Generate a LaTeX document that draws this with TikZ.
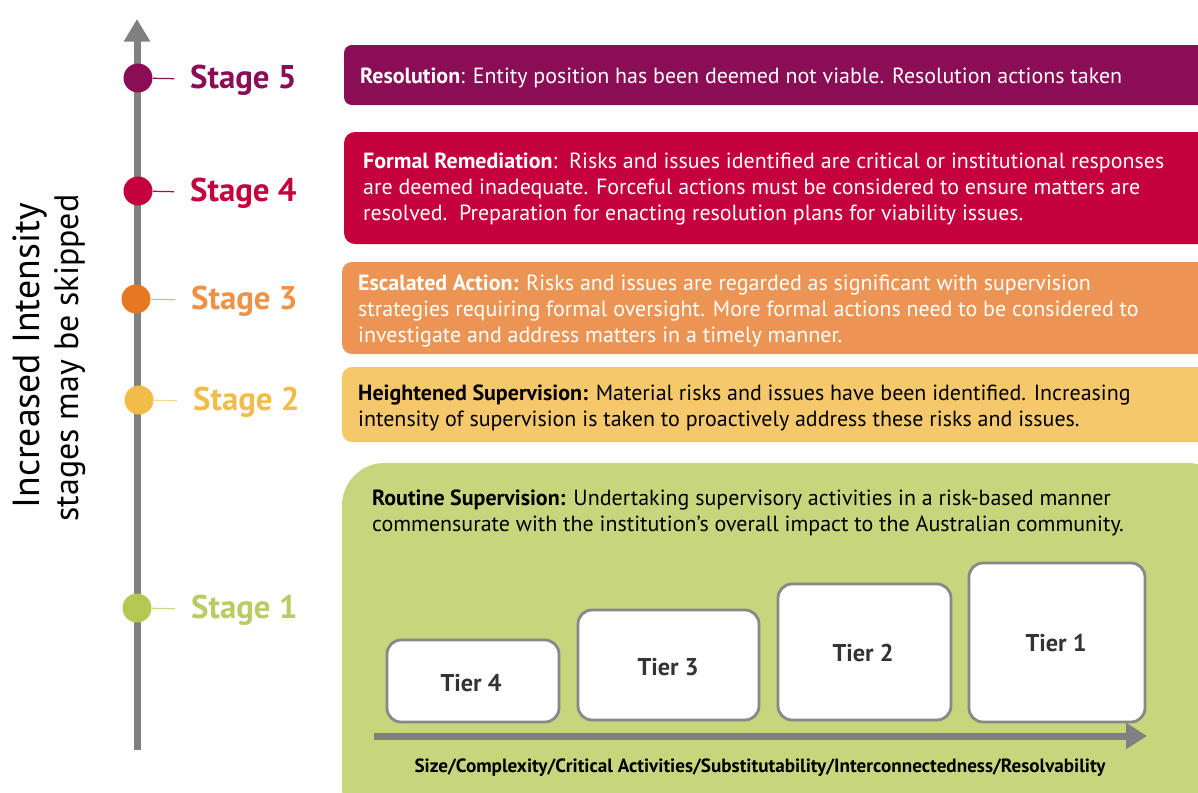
\documentclass[tikz,border=0pt]{standalone}
\usepackage{fontspec}
\setmainfont{PT Sans}
\usetikzlibrary{arrows.meta}
\definecolor{purp}{HTML}{8A0D55}
\definecolor{crim}{HTML}{C4003D}
\definecolor{orng}{HTML}{E87722}
\definecolor{orngtxt}{HTML}{EE9248}
\definecolor{orngbox}{HTML}{EC9453}
\definecolor{gold}{HTML}{F2BC4A}
\definecolor{goldbox}{HTML}{F5C86C}
\definecolor{lime}{HTML}{B4C853}
\definecolor{limetxt}{HTML}{B9CC62}
\definecolor{limebox}{HTML}{C7D67D}
\definecolor{axisgray}{HTML}{808080}
\definecolor{tiergray}{HTML}{888888}

\begin{document}
\begin{tikzpicture}[x=0.02cm, y=-0.02cm,
	dot/.style={circle, inner sep=0pt, minimum size=0.58cm},
	stagelbl/.style={anchor=west, font=\fontsize{18.7}{21}\selectfont\bfseries},
	boxtxt/.style={anchor=west, align=left, font=\fontsize{12.5}{14.7}\selectfont},
	tierbox/.style={draw=tiergray, line width=1.6pt, fill=white, rounded corners=0.28cm},
	tierlbl/.style={font=\fontsize{13.8}{15}\selectfont\bfseries, text=black!80}]
	\useasboundingbox (0,0) rectangle (1198,792);
	\clip (0,0) rectangle (1198,792);

	%side captions
	\node[rotate=90, font=\fontsize{21.5}{23}\selectfont] (intens) at (30,356) {Increased Intensity};
	\node[rotate=90, font=\fontsize{19.3}{21}\selectfont] (skip) at (70,358) {stages may be skipped};

	%vertical axis
	\coordinate (axbot) at (137,750);
	\coordinate (axtop) at (137,19);
	\draw[axisgray, line width=0.14cm, -{Triangle[width=0.5cm, length=0.45cm]}] (axbot) -- (axtop);

	%stage dots and labels
	\node[dot, fill=purp] (s5) at (138,78) {};
	\node[dot, fill=crim] (s4) at (138,191) {};
	\node[dot, fill=orng] (s3) at (136,299) {};
	\node[dot, fill=gold] (s2) at (139,400) {};
	\node[dot, fill=lime] (s1) at (137,608) {};
	\node[stagelbl, text=purp] (s5l) at (184,80) {Stage 5};
	\node[stagelbl, text=crim] (s4l) at (184,193) {Stage 4};
	\node[stagelbl, text=orngtxt] (s3l) at (185,301) {Stage 3};
	\node[stagelbl, text=gold] (s2l) at (187,402) {Stage 2};
	\node[stagelbl, text=limetxt] (s1l) at (185,610) {Stage 1};
	\draw[purp, line width=0.7pt, shorten >=0.2cm] (s5) -- (s5l);
	\draw[crim, line width=0.7pt, shorten >=0.2cm] (s4) -- (s4l);
	\draw[orngtxt!70, line width=0.7pt, shorten >=0.2cm] (s3) -- (s3l);
	\draw[gold!60, line width=0.7pt, shorten >=0.2cm] (s2) -- (s2l);
	\draw[lime!70, line width=0.7pt, shorten >=0.2cm] (s1) -- (s1l);

	%stage boxes
	\fill[purp, rounded corners=0.16cm] (344,45) rectangle (1230,105);
	\fill[crim, rounded corners=0.22cm] (344,132) rectangle (1230,244);
	\fill[orngbox, rounded corners=0.2cm] (342,262) rectangle (1230,354);
	\fill[goldbox, rounded corners=0.2cm] (342,367) rectangle (1230,442);
	\fill[limebox, rounded corners=0.85cm] (342,463) rectangle (1230,830);

	%box texts
	\node[boxtxt, text=white] (t5) at (354,78) {\textbf{Resolution}: Entity position has been deemed not viable. Resolution actions taken};
	\node[boxtxt, text=white] (t4) at (357,189) {\textbf{Formal Remediation}:\ \ Risks and issues identified are critical or institutional responses\\are deemed inadequate. Forceful actions must be considered to ensure matters are\\resolved.\ \ Preparation for enacting resolution plans for viability issues.};
	\node[boxtxt, text=white] (t3) at (352,311) {\textbf{Escalated Action:} Risks and issues are regarded as significant with supervision\\strategies requiring formal oversight. More formal actions need to be considered to\\investigate and address matters in a timely manner.};
	\node[boxtxt, text=black] (t2) at (352,408) {\textbf{Heightened Supervision:} Material risks and issues have been identified. Increasing\\intensity of supervision is taken to proactively address these risks and issues.};
	\node[boxtxt, text=black] (t1) at (366,513) {\textbf{Routine Supervision:} Undertaking supervisory activities in a risk-based manner\\commensurate with the institution’s overall impact to the Australian community.};

	%tiers
	\draw[tierbox] (387,640) rectangle (559,722);
	\draw[tierbox] (578,610) rectangle (759,720);
	\draw[tierbox] (778,584) rectangle (951,720);
	\draw[tierbox] (969,563) rectangle (1145,722);
	\node[tierlbl] (tier4) at (471,683) {Tier 4};
	\node[tierlbl] (tier3) at (668,667) {Tier 3};
	\node[tierlbl] (tier2) at (863,653) {Tier 2};
	\node[tierlbl] (tier1) at (1056,643) {Tier 1};

	%size arrow
	\coordinate (sz0) at (374,736);
	\coordinate (sz1) at (1147,736);
	\draw[axisgray, line width=0.14cm, -{Triangle[width=0.5cm, length=0.42cm]}] (sz0) -- (sz1);
	\node[font=\fontsize{10.9}{12}\selectfont\bfseries] (sizes) at (760,768) {Size/Complexity/Critical Activities/Substitutability/Interconnectedness/Resolvability};
\end{tikzpicture}
\end{document}
